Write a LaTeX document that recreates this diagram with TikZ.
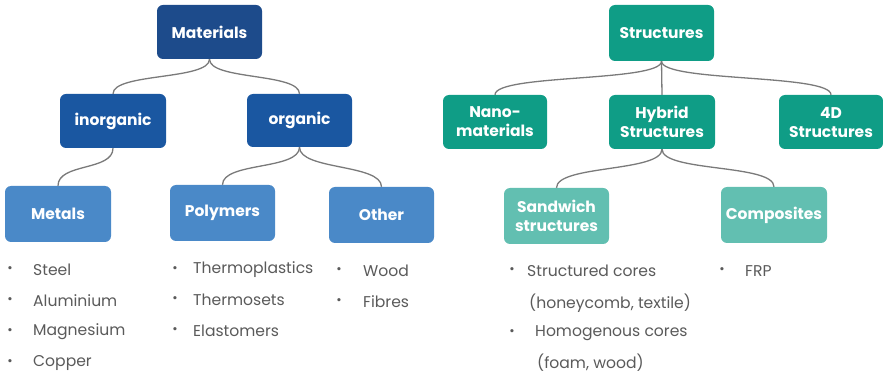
\documentclass[tikz,border=0pt]{standalone}
\usepackage{fontspec}
\setmainfont{Poppins}
\definecolor{matdark}{HTML}{1D4B8B}
\definecolor{matmid}{HTML}{1A57A1}
\definecolor{matlight}{HTML}{4A89C8}
\definecolor{strdark}{HTML}{0F9D86}
\definecolor{strlight}{HTML}{62BFB1}
\definecolor{linkgray}{HTML}{7A7A7A}
\definecolor{listgray}{HTML}{5A5A5A}
\begin{document}
\begin{tikzpicture}[x=1pt,y=-1pt,
  box/.style={rounded corners=6pt, text=white, font=\bfseries\fontsize{15.5}{19}\selectfont,
    align=center, inner sep=0pt},
  link/.style={draw=linkgray, line width=1.3pt},
  bul/.style={text=listgray, font=\fontsize{13}{16}\selectfont, anchor=center, inner sep=0pt},
  item/.style={text=listgray, font=\fontsize{15.6}{18}\selectfont, anchor=west, inner sep=0pt},
]
\useasboundingbox (0,0) rectangle (883,379);

% Materials tree
\node[box, fill=matdark, minimum width=105pt, minimum height=54pt] (mat) at (209.5,32) {Materials};
\node[box, fill=matmid, minimum width=106pt, minimum height=54pt] (inorg) at (113,121) {inorganic};
\node[box, fill=matmid, minimum width=105pt, minimum height=53pt] (org) at (299.5,120.5) {organic};
\node[box, fill=matlight, minimum width=106pt, minimum height=56pt] (met) at (58,214) {Metals};
\node[box, fill=matlight, minimum width=105pt, minimum height=56pt] (pol) at (222.5,213) {Polymers};
\node[box, fill=matlight, minimum width=105pt, minimum height=56pt] (oth) at (381.5,215) {Other};

% Structures tree
\node[box, fill=strdark, minimum width=105pt, minimum height=56pt] (str) at (661.5,33) {Structures};
\node[box, fill=strdark, minimum width=104pt, minimum height=54pt] (nano) at (495,122) {Nano-\\materials};
\node[box, fill=strdark, minimum width=106pt, minimum height=54pt] (hyb) at (662,122) {Hybrid\\Structures};
\node[box, fill=strdark, minimum width=104pt, minimum height=54pt] (fourd) at (831,122) {4D\\Structures};
\node[box, fill=strlight, minimum width=105pt, minimum height=56pt] (sand) at (556.5,216) {Sandwich\\structures};
\node[box, fill=strlight, minimum width=106pt, minimum height=56pt] (comp) at (774,215) {Composites};

% Connectors
\draw[link] (mat.south) .. controls +(0,21) and +(0,-21) .. (inorg.north);
\draw[link] (mat.south) .. controls +(0,21) and +(0,-21) .. (org.north);
\draw[link] (inorg.south) .. controls +(0,23) and +(0,-23) .. (met.north);
\draw[link] (org.south) .. controls +(0,23) and +(0,-23) .. (pol.north);
\draw[link] (org.south) .. controls +(0,23) and +(0,-23) .. (oth.north);
\draw[link] (str.south) .. controls +(0,21) and +(0,-21) .. (nano.north);
\draw[link] (str.south) -- (hyb.north);
\draw[link] (str.south) .. controls +(0,21) and +(0,-21) .. (fourd.north);
\draw[link] (hyb.south) .. controls +(0,23) and +(0,-23) .. (sand.north);
\draw[link] (hyb.south) .. controls +(0,23) and +(0,-23) .. (comp.north);

% Metals list
\node[bul] (mb1) at (10,270) {\textbullet};
\node[item] (m1) at (33,270) {Steel};
\node[bul] (mb2) at (10,301) {\textbullet};
\node[item] (m2) at (33,301) {Aluminium};
\node[bul] (mb3) at (10,332) {\textbullet};
\node[item] (m3) at (33,332) {Magnesium};
\node[bul] (mb4) at (10,363) {\textbullet};
\node[item] (m4) at (33,363) {Copper};

% Polymers list
\node[bul] (pb1) at (175,270) {\textbullet};
\node[item] (p1) at (193,270) {Thermoplastics};
\node[bul] (pb2) at (175,300) {\textbullet};
\node[item] (p2) at (193,300) {Thermosets};
\node[bul] (pb3) at (175,331) {\textbullet};
\node[item] (p3) at (193,331) {Elastomers};

% Other list
\node[bul] (ob1) at (339,271) {\textbullet};
\node[item] (o1) at (363,271) {Wood};
\node[bul] (ob2) at (339,302) {\textbullet};
\node[item] (o2) at (363,302) {Fibres};

% Sandwich list
\node[bul] (sb1) at (512,271) {\textbullet};
\node[item] (s1) at (527,271) {Structured cores};
\node[item] (s1b) at (529,303) {(honeycomb, textile)};
\node[bul] (sb2) at (512,333) {\textbullet};
\node[item] (s2) at (535,333) {Homogenous cores};
\node[item] (s2b) at (537,363) {(foam, wood)};

% Composites list
\node[bul] (cb1) at (722,271) {\textbullet};
\node[item] (c1) at (745,271) {FRP};
\end{tikzpicture}
\end{document}
